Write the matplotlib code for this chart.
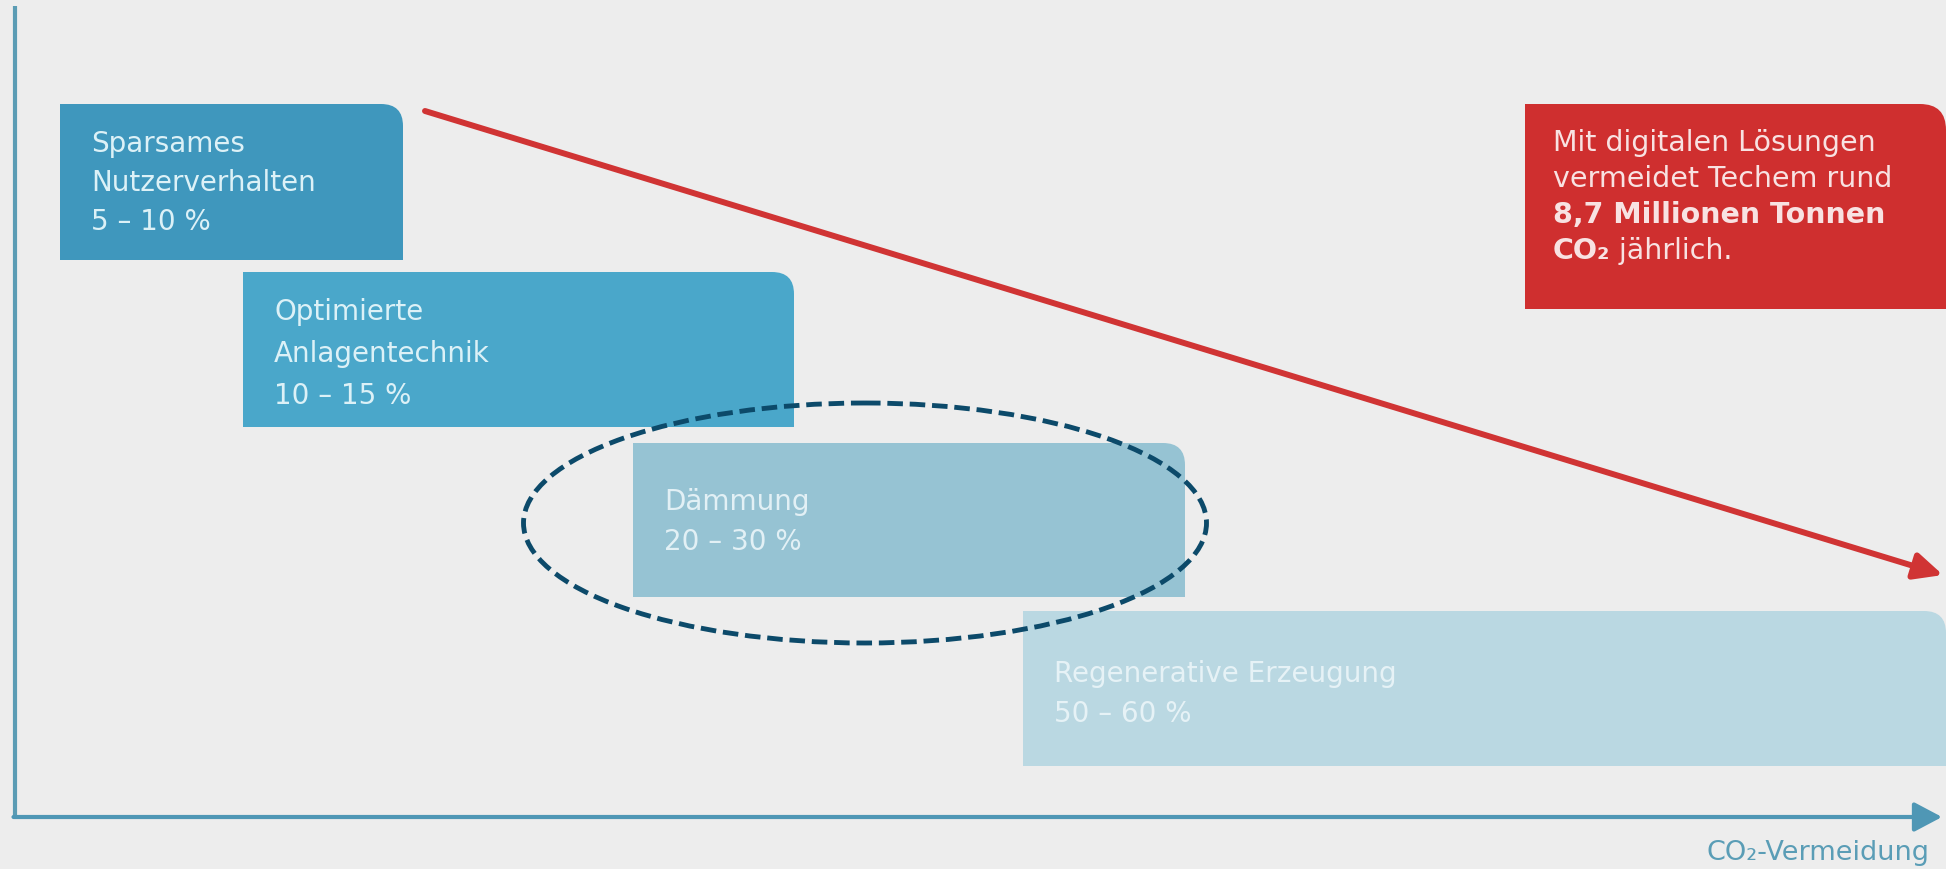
"""
Techem diagram: savings steps vs. CO2 avoidance
"""

import matplotlib
matplotlib.use("Agg")
import matplotlib.pyplot as plt
from matplotlib.path import Path
from matplotlib.patches import PathPatch, Ellipse, FancyArrowPatch

plt.rcParams['font.family'] = ['DejaVu Sans']

# steps (pixel coordinates of the original graphic, y counted from the top)
labels = [["Sparsames", "Nutzerverhalten"],
          ["Optimierte", "Anlagentechnik"],
          ["Dämmung"],
          ["Regenerative Erzeugung"]]
ranges = ["5 – 10 %", "10 – 15 %", "20 – 30 %", "50 – 60 %"]
box_left = [60, 243, 633, 1023]
box_right = [403, 794, 1185, 1946]
box_top = [105, 273, 444, 612]
box_bottom = [261, 428, 598, 767]

box_colors = ['#3f97bd', '#4aa7ca', '#96c3d3', '#bad8e2']
text_colors = ['#dcf1f7', '#dcf1f7', '#e2f0f5', '#e6f2f6']
first_base = [47, 47, 66, 70]
line_gap = [39, 42, 40, 40]

info_lines = ["Mit digitalen Lösungen", "vermeidet Techem rund",
              "8,7 Millionen Tonnen"]
info_box = [1525, 1946, 105, 310]

trend_start = (425, 112)
trend_end = (1943, 576)

focus_center = (865, 524)
focus_size = (683, 240)


def top_right_rounded(x0, x1, y0, y1, r):
    # y0 = top (small value), y1 = bottom; only top-right corner rounded
    verts = [(x0, y1), (x0, y0), (x1 - r, y0), (x1, y0), (x1, y0 + r),
             (x1, y1), (x0, y1)]
    codes = [Path.MOVETO, Path.LINETO, Path.LINETO, Path.CURVE3, Path.CURVE3,
             Path.LINETO, Path.CLOSEPOLY]
    return Path(verts, codes)


fig = plt.figure(figsize=(19.46, 8.7), dpi=100, facecolor='#ededed')
ax = fig.add_axes([0, 0, 1, 1])
ax.set_xlim(0, 1946)
ax.set_ylim(870, 0)
ax.axis('off')

# boxes
for i in range(len(labels)):
    p = top_right_rounded(box_left[i], box_right[i], box_top[i], box_bottom[i], 22)
    ax.add_patch(PathPatch(p, facecolor=box_colors[i], edgecolor='none', zorder=2))
    lines = labels[i] + [ranges[i]]
    for j, s in enumerate(lines):
        ax.text(box_left[i] + 31, box_top[i] + first_base[i] + line_gap[i] * j, s,
                fontsize=20, color=text_colors[i], va='baseline', ha='left',
                zorder=3)

# red info box
p = top_right_rounded(info_box[0], info_box[1], info_box[2], info_box[3], 26)
ax.add_patch(PathPatch(p, facecolor='#cf2f2f', edgecolor='none', zorder=2))
for j, s in enumerate(info_lines):
    ax.text(info_box[0] + 28, info_box[2] + 46 + 36 * j, s, fontsize=20.5,
            color='#f8e2e2', va='baseline', ha='left',
            fontweight='bold' if j == 2 else 'normal', zorder=3)
t_co2 = ax.text(info_box[0] + 28, info_box[2] + 46 + 36 * 3, "CO₂", fontsize=20.5,
                color='#f8e2e2', va='baseline', ha='left', fontweight='bold', zorder=3)
ax.annotate(" jährlich.", xy=(1, 0), xycoords=t_co2, fontsize=20.5,
            color='#f8e2e2', va='bottom', ha='left', zorder=3)

# trend arrow
ax.add_patch(FancyArrowPatch(trend_start, trend_end,
                             arrowstyle='-|>,head_length=17,head_width=8',
                             mutation_scale=1, lw=4.3, color='#d03434',
                             shrinkA=0, shrinkB=0, zorder=4))

# axes
ax.plot([15, 15], [7, 818], color='#5b9cb4', lw=3, solid_capstyle='butt', zorder=1)
ax.add_patch(FancyArrowPatch((13.5, 818), (1942, 818),
                             arrowstyle='-|>,head_length=17,head_width=9',
                             mutation_scale=1, lw=3, color='#4f97b5',
                             shrinkA=0, shrinkB=0, zorder=1))
ax.text(1930, 860, "CO₂-Vermeidung", fontsize=19.5, color='#5a9db6',
        ha='right', va='baseline')

# dashed focus ellipse
ax.add_patch(Ellipse(focus_center, focus_size[0], focus_size[1], fill=False,
                     edgecolor='#0c4a6a', lw=3.5, linestyle=(0, (3.2, 1.4)),
                     zorder=5))

fig.savefig('out.png', dpi=100, facecolor=fig.get_facecolor())
